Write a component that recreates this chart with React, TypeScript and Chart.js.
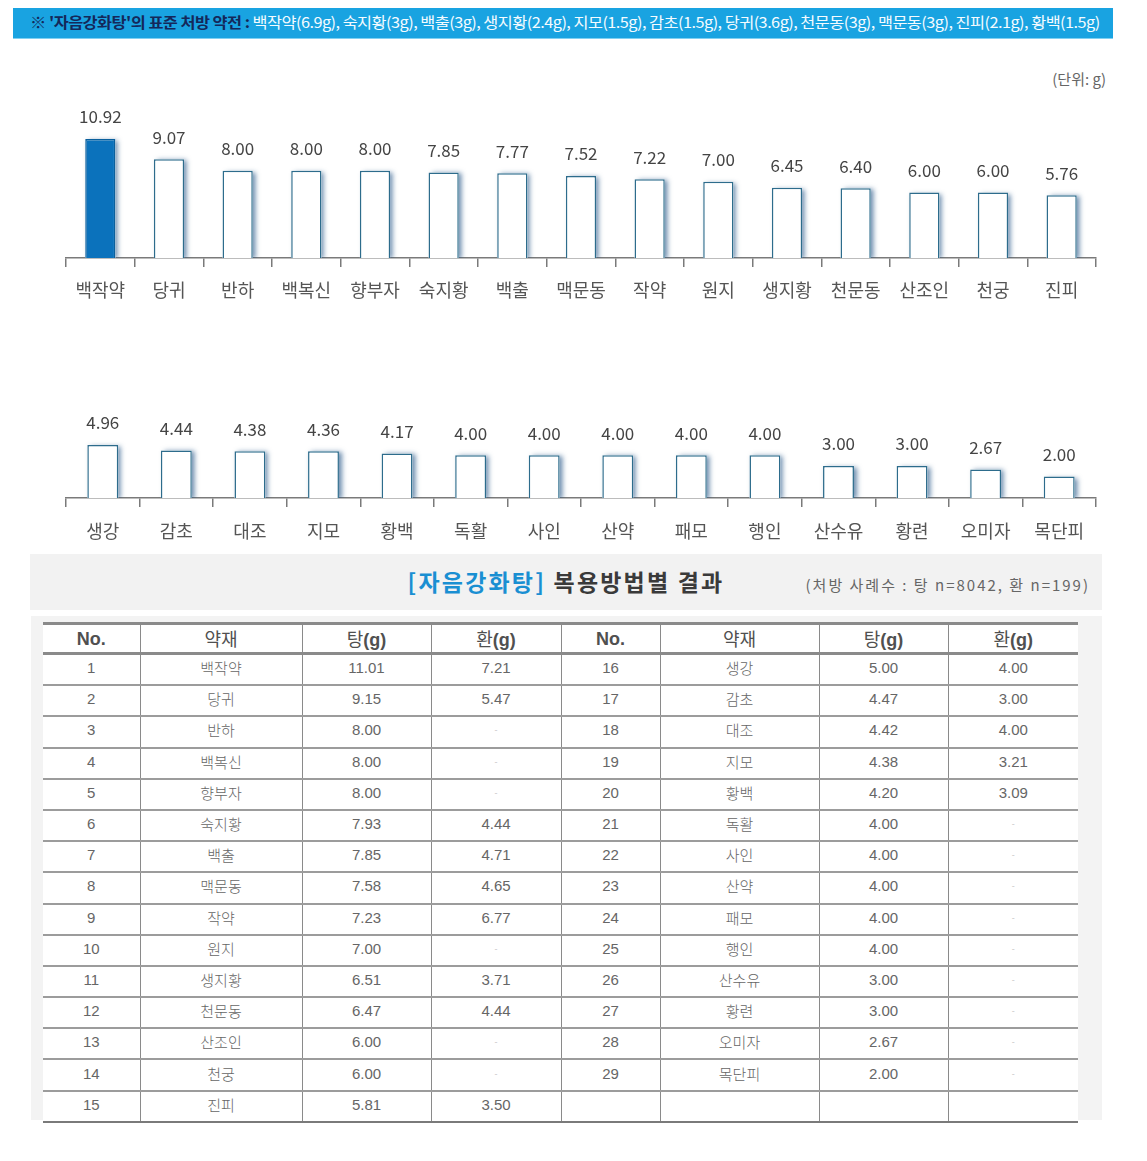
import React, { useEffect, useLayoutEffect, useRef } from "react";
import { Chart, registerables } from "chart.js";

Chart.register(...registerables);

// ---------- data ----------
const bannerPrefix = "※ '자음강화탕'의 표준 처방 약전 : ";
const bannerHerbs = "백작약(6.9g), 숙지황(3g), 백출(3g), 생지황(2.4g), 지모(1.5g), 감초(1.5g), 당귀(3.6g), 천문동(3g), 맥문동(3g), 진피(2.1g), 황백(1.5g)";
const unitText = "(단위: g)";

const chart1Labels = ["백작약", "당귀", "반하", "백복신", "향부자", "숙지황", "백출", "맥문동", "작약", "원지", "생지황", "천문동", "산조인", "천궁", "진피"];
const chart1Values = [10.92, 9.07, 8.0, 8.0, 8.0, 7.85, 7.77, 7.52, 7.22, 7.0, 6.45, 6.4, 6.0, 6.0, 5.76];

const chart2Labels = ["생강", "감초", "대조", "지모", "황백", "독활", "사인", "산약", "패모", "행인", "산수유", "황련", "오미자", "목단피"];
const chart2Values = [4.96, 4.44, 4.38, 4.36, 4.17, 4.0, 4.0, 4.0, 4.0, 4.0, 3.0, 3.0, 2.67, 2.0];

const titleBracket = "[자음강화탕]";
const titleRest = " 복용방법별 결과";
const titleNote = "(처방 사례수 : 탕 n=8042, 환 n=199)";

const tableHeaders = ["No.", "약재", "탕(g)", "환(g)"];
const tableHerbs = ["백작약", "당귀", "반하", "백복신", "향부자", "숙지황", "백출", "맥문동", "작약", "원지", "생지황", "천문동", "산조인", "천궁", "진피",
  "생강", "감초", "대조", "지모", "황백", "독활", "사인", "산약", "패모", "행인", "산수유", "황련", "오미자", "목단피"];
const tableTang = ["11.01", "9.15", "8.00", "8.00", "8.00", "7.93", "7.85", "7.58", "7.23", "7.00", "6.51", "6.47", "6.00", "6.00", "5.81",
  "5.00", "4.47", "4.42", "4.38", "4.20", "4.00", "4.00", "4.00", "4.00", "4.00", "3.00", "3.00", "2.67", "2.00"];
const tableHwan = ["7.21", "5.47", "-", "-", "-", "4.44", "4.71", "4.65", "6.77", "-", "3.71", "4.44", "-", "-", "3.50",
  "4.00", "3.00", "4.00", "3.21", "3.09", "-", "-", "-", "-", "-", "-", "-", "-", "-"];

// ---------- chart helpers ----------
const FONT = '"Noto Sans CJK KR", "Noto Sans", sans-serif';

// draws a soft bluish drop shadow behind each bar (bars are drawn on top afterwards)
const shadowPlugin = {
  id: "barShadow",
  beforeDatasetsDraw(chart: any) {
    const ctx = chart.ctx;
    const area = chart.chartArea;
    const meta = chart.getDatasetMeta(0);
    ctx.save();
    ctx.beginPath();
    ctx.rect(area.left, area.top - 40, area.right - area.left, area.bottom - area.top + 40);
    ctx.clip();
    ctx.shadowColor = "rgba(30,80,130,0.65)";
    ctx.shadowBlur = 5;
    ctx.shadowOffsetX = 3;
    ctx.shadowOffsetY = 1;
    ctx.fillStyle = "#ffffff";
    meta.data.forEach((b: any) => {
      const p = b.getProps(["x", "y", "base", "width"], true);
      ctx.fillRect(p.x - p.width / 2, p.y, p.width, p.base - p.y);
    });
    ctx.restore();
  },
};

const valueLabelPlugin = {
  id: "valueLabels",
  afterDraw(chart: any) {
    const ctx = chart.ctx;
    const meta = chart.getDatasetMeta(0);
    const data = chart.data.datasets[0].data as number[];
    ctx.save();
    ctx.font = `17px ${FONT}`;
    ctx.fillStyle = "#444";
    ctx.textAlign = "center";
    ctx.textBaseline = "middle";
    meta.data.forEach((bar: any, i: number) => {
      ctx.fillText(data[i].toFixed(2), bar.x, bar.y - 22);
    });
    ctx.restore();
  },
};

function BarChart(props: {
  labels: string[];
  values: number[];
  top: number;
  height: number;
  axisH: number;
  padTop: number;
  max: number;
  barPct: number;
  tickPad: number;
  highlightFirst: boolean;
}) {
  const ref = useRef<HTMLCanvasElement | null>(null);
  useEffect(() => {
    if (!ref.current) return;
    const hl = props.highlightFirst;
    const chart = new Chart(ref.current, {
      type: "bar",
      data: {
        labels: props.labels,
        datasets: [
          {
            data: props.values,
            backgroundColor: props.values.map((_, i) => (hl && i === 0 ? "#0b72bc" : "#ffffff")),
            borderColor: props.values.map((_, i) => (hl && i === 0 ? "#0a5f9c" : "#2d6c8c")),
            borderWidth: 1.5,
            barPercentage: props.barPct,
            categoryPercentage: 1,
          },
        ],
      },
      options: {
        responsive: false,
        animation: false,
        layout: { padding: { left: 66, right: 51, top: props.padTop, bottom: 0 } },
        plugins: { legend: { display: false }, tooltip: { enabled: false } },
        scales: {
          x: {
            grid: {
              display: true,
              drawOnChartArea: false,
              drawTicks: true,
              tickLength: 9,
              color: "#7a7a7a",
              lineWidth: 1.5,
              offset: true,
            },
            border: { display: true, color: "#7a7a7a", width: 1.5 },
            ticks: {
              color: "#555",
              font: { family: FONT, size: 18 },
              padding: props.tickPad,
              autoSkip: false,
              maxRotation: 0,
            },
            afterFit: (s: any) => {
              s.height = props.axisH;
            },
          },
          y: { display: false, min: 0, max: props.max },
        },
      },
      plugins: [shadowPlugin, valueLabelPlugin],
    });
    return () => chart.destroy();
  }, []);
  return (
    <canvas
      ref={ref}
      width={1147}
      height={props.height}
      style={{ position: "absolute", left: 0, top: props.top, width: 1147, height: props.height }}
    />
  );
}

function Banner() {
  const ref = useRef<HTMLSpanElement | null>(null);
  useLayoutEffect(() => {
    const el = ref.current;
    if (!el) return;
    const w = el.scrollWidth;
    el.style.transform = `scaleX(${1070 / w})`;
  }, []);
  return (
    <div
      style={{
        position: "absolute",
        left: 13,
        top: 8,
        width: 1100,
        height: 30,
        background: "#19a3e1",
        borderBottom: "1px solid #7fd0f2",
        overflow: "hidden",
      }}
    >
      <span
        ref={ref}
        style={{
          position: "absolute",
          left: 17,
          top: 4,
          whiteSpace: "nowrap",
          transformOrigin: "left center",
          fontFamily: FONT,
          fontSize: 15,
          lineHeight: "20px",
          letterSpacing: -0.5,
        }}
      >
        <span style={{ color: "#14285a", fontWeight: 700 }}>{bannerPrefix}</span>
        <span style={{ color: "#f4fbff" }}>{bannerHerbs}</span>
      </span>
    </div>
  );
}

function cellStyle(extra: any = {}) {
  return {
    padding: 0,
    textAlign: "center" as const,
    verticalAlign: "middle" as const,
    ...extra,
  };
}

function HeaderText({ text }: { text: string }) {
  const parts = text.split(/([^\uAC00-\uD7A3]+)/).filter((p) => p.length);
  return (
    <>
      {parts.map((p, i) =>
        /[\uAC00-\uD7A3]/.test(p) ? (
          <span key={i} style={{ fontWeight: 400, fontFamily: FONT }}>{p}</span>
        ) : (
          <span key={i} style={{ fontWeight: 700 }}>{p}</span>
        )
      )}
    </>
  );
}

function DataTable() {
  const colW = [97, 162, 129, 130, 99, 159, 129, 130];
  const rows = [];
  for (let r = 0; r < 15; r++) {
    const right = r + 15;
    rows.push({
      l: [String(r + 1), tableHerbs[r], tableTang[r], tableHwan[r]],
      r: right < tableHerbs.length ? [String(right + 1), tableHerbs[right], tableTang[right], tableHwan[right]] : ["", "", "", ""],
    });
  }
  const vBorder = "1px solid #8a8a8a";
  const bodyFont = '"Liberation Sans", "Noto Sans CJK KR", sans-serif';
  const renderCell = (v: string, ci: number, isLastRow: boolean) => {
    const isDash = v === "-";
    return (
      <td
        key={ci}
        style={cellStyle({
          height: 26.2,
          lineHeight: "18px",
          borderBottom: isLastRow ? "2px solid #7a7a7a" : "2px solid #9c9c9c",
          borderLeft: ci % 8 === 0 ? "none" : vBorder,
          color: isDash ? "#c8c8c8" : "#666",
          fontSize: isDash ? 9 : 15,
          fontFamily: ci % 4 === 1 ? FONT : bodyFont,
          fontWeight: ci % 4 === 1 ? 300 : 400,
          background: "#fff",
          paddingBottom: 3,
        })}
      >
        {v}
      </td>
    );
  };
  return (
    <table
      style={{
        position: "absolute",
        left: 43,
        top: 622,
        width: 1035,
        borderCollapse: "collapse",
        tableLayout: "fixed",
      }}
    >
      <colgroup>
        {colW.map((w, i) => (
          <col key={i} style={{ width: w }} />
        ))}
      </colgroup>
      <thead>
        <tr>
          {[...tableHeaders, ...tableHeaders].map((h, i) => (
            <th
              key={i}
              style={cellStyle({
                height: 27,
                lineHeight: "22px",
                borderTop: "3px solid #8a8a8a",
                borderBottom: "3px solid #8a8a8a",
                borderLeft: i === 0 ? "none" : vBorder,
                color: "#505050",
                fontSize: 18,
                fontFamily: '"Liberation Sans", "Noto Sans CJK KR", sans-serif',
                background: "#fff",
              })}
            >
              <HeaderText text={h} />
            </th>
          ))}
        </tr>
      </thead>
      <tbody>
        {rows.map((row, ri) => (
          <tr key={ri}>
            {[...row.l, ...row.r].map((v, ci) => renderCell(v, ci, ri === 14))}
          </tr>
        ))}
      </tbody>
    </table>
  );
}

export default function App() {
  return (
    <div style={{ position: "absolute", left: 0, top: 0, width: 1147, height: 1161, background: "#fff", fontFamily: FONT }}>
      <Banner />
      <div style={{ position: "absolute", right: 41, top: 68, color: "#666", fontSize: 15, fontFamily: FONT }}>{unitText}</div>
      <BarChart labels={chart1Labels} values={chart1Values} top={90} height={230} axisH={62} padTop={30} max={138 / 10.9} barPct={0.44} tickPad={12} highlightFirst={true} />
      <BarChart labels={chart2Labels} values={chart2Values} top={390} height={164} axisH={56} padTop={30} max={78 / 10.7} barPct={0.42} tickPad={13} highlightFirst={false} />
      <div style={{ position: "absolute", left: 30, top: 554, width: 1072, height: 56, background: "#f2f2f2" }}>
        <div style={{ position: "absolute", left: 0, width: 1072, top: 12, textAlign: "center", fontSize: 23, fontWeight: 700, lineHeight: "30px", letterSpacing: 2.2 }}>
          <span style={{ color: "#1a8fd2" }}>{titleBracket}</span>
          <span style={{ color: "#3a3a3a" }}>{titleRest}</span>
        </div>
        <div style={{ position: "absolute", right: 12, top: 20, fontSize: 15, color: "#666", letterSpacing: 2 }}>{titleNote}</div>
      </div>
      <div style={{ position: "absolute", left: 31, top: 616, width: 1071, height: 504, background: "#f3f3f3" }} />
      <DataTable />
    </div>
  );
}
